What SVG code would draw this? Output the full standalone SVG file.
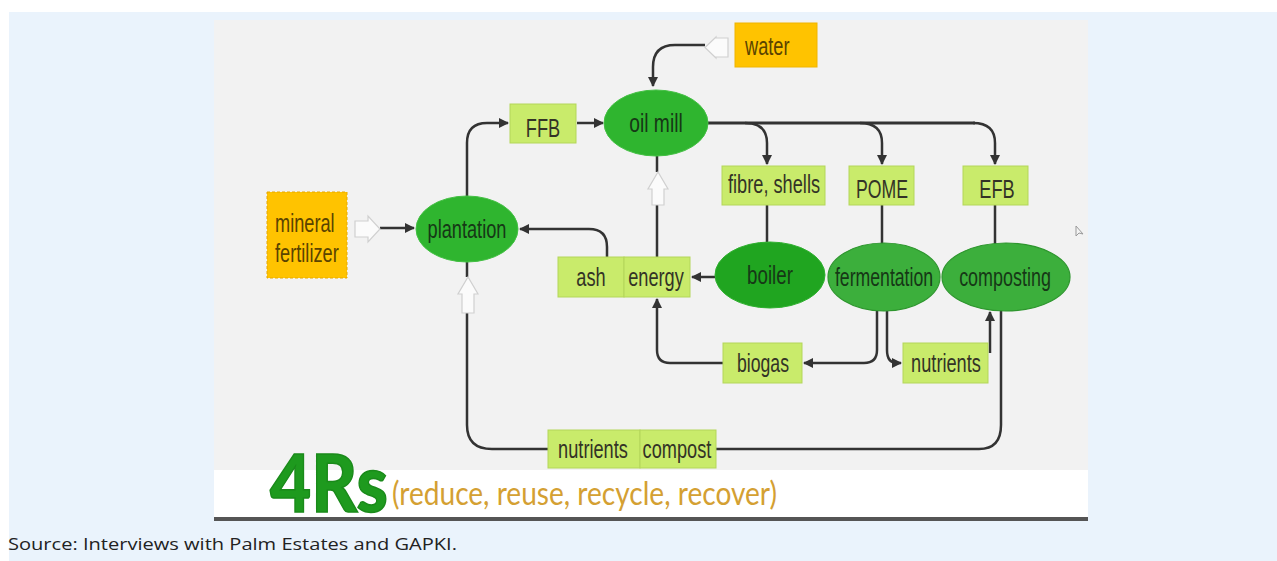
<svg xmlns="http://www.w3.org/2000/svg" width="1277" height="561" viewBox="0 0 1277 561">
<defs>
<style>
.lbl{font-family:"Liberation Sans",Arial,sans-serif;font-size:26px;fill:#333326;text-anchor:middle;}
.elbl{font-family:"Liberation Sans",Arial,sans-serif;font-size:26px;fill:#163816;text-anchor:middle;}
.olbl{font-family:"Liberation Sans",Arial,sans-serif;font-size:26px;fill:#5a4300;}
.box{fill:#C9EB6B;stroke:#B3D65A;stroke-width:1;}
.obox{fill:#FFC300;stroke:#F0B400;stroke-width:1;}
.ell1{fill:#2FB52F;stroke:#44C044;stroke-width:1;}
.ell2{fill:#20A520;stroke:#30B030;stroke-width:1;}
.ell3{fill:#3CAF3C;stroke:#2E962E;stroke-width:1.2;}
.con{fill:none;stroke:#333;stroke-width:2.5;}
.hollow{fill:#fbfbfb;stroke:#d0d0d0;stroke-width:1.2;}
</style>
<marker id="ah" viewBox="0 0 10 10" refX="9" refY="5" markerWidth="4" markerHeight="4" orient="auto" markerUnits="strokeWidth">
<path d="M0,0 L10,5 L0,10 z" fill="#333"/>
</marker>
</defs>
<rect x="0" y="0" width="1277" height="561" fill="#fff"/>
<rect x="9" y="12" width="1268" height="549" fill="#EAF3FC"/>
<rect x="214" y="20" width="874" height="450" fill="#F2F2F2"/>
<rect x="214" y="470" width="874" height="47" fill="#fff"/>
<rect x="214" y="517" width="874" height="4" fill="#555"/>

<g id="connectors">
<path class="con" d="M705,45 H675 Q653,45 653,67 V86" marker-end="url(#ah)"/>
<path class="con" d="M467,197 V143 Q467,123 487,123 H508" marker-end="url(#ah)"/>
<path class="con" d="M577,123 H603" marker-end="url(#ah)"/>
<path class="con" d="M708,123 H975" style="stroke-width:3.2"/>
<path class="con" d="M745,123 Q767,123 767,143 V164" marker-end="url(#ah)"/>
<path class="con" d="M860,123 Q882,123 882,143 V164" marker-end="url(#ah)"/>
<path class="con" d="M973,123 Q995,123 995,143 V164" marker-end="url(#ah)"/>
<path class="con" d="M767,205 V242"/>
<path class="con" d="M882,205 V244"/>
<path class="con" d="M995,205 V244"/>
<path class="con" d="M715,277 H692" marker-end="url(#ah)"/>
<path class="con" d="M657,257 V205"/>
<path class="con" d="M657,172 V156"/>
<path class="con" d="M607,257 V247 Q607,229 589,229 H520" marker-end="url(#ah)"/>
<path class="con" d="M380,228 H414" marker-end="url(#ah)"/>
<path class="con" d="M467,262 V277"/>
<path class="con" d="M467,313 V425 Q467,449 492,449 H548"/>
<path class="con" d="M716,449 H979 Q1001,449 1001,425 V310"/>
<path class="con" d="M877,311 V350 Q877,363 864,363 H804" marker-end="url(#ah)"/>
<path class="con" d="M723,363 H670 Q657,363 657,350 V299" marker-end="url(#ah)"/>
<path class="con" d="M887,311 V350 Q887,363 897,363 H901" marker-end="url(#ah)"/>
<path class="con" d="M990,353 V312" marker-end="url(#ah)"/>
<path class="hollow" d="M728,38 H716 V37 L705,47.5 L716,58 V57 H728 z"/>
<path class="hollow" d="M355,221 H368 V216 L380,229 L368,242 V237 H355 z"/>
<path class="hollow" d="M462,313 V294 H458 L468,277 L478,294 H474 V313 z"/>
<path class="hollow" d="M652,205 V189 H648 L658,172 L668,189 H664 V205 z"/>
</g>

<g id="water"><rect class="obox" x="735" y="23" width="82" height="44"/><text class="olbl" transform="translate(745,55) scale(0.7,1)">water</text></g>
<g id="mineral-fertilizer"><rect class="obox" x="267" y="192" width="80" height="86" style="stroke:#E6A800;stroke-dasharray:3 2"/><text class="olbl" transform="translate(275,232) scale(0.7,1)">mineral</text><text class="olbl" transform="translate(275,262) scale(0.7,1)">fertilizer</text></g>
<g id="oil-mill"><ellipse class="ell1" cx="656" cy="123" rx="52" ry="33"/><text class="elbl" transform="translate(656,132) scale(0.74,1)">oil mill</text></g>
<g id="plantation"><ellipse class="ell1" cx="467" cy="229" rx="51" ry="33"/><text class="elbl" transform="translate(467,238) scale(0.7,1)">plantation</text></g>
<g id="ffb"><rect class="box" x="510" y="104" width="66" height="39"/><text class="lbl" transform="translate(543,137) scale(0.7,1)">FFB</text></g>
<g id="fibre-shells"><rect class="box" x="722" y="166" width="103" height="39"/><text class="lbl" transform="translate(774,193) scale(0.7,1)">fibre, shells</text></g>
<g id="pome"><rect class="box" x="849" y="166" width="65" height="39"/><text class="lbl" transform="translate(882,198) scale(0.68,1)">POME</text></g>
<g id="efb"><rect class="box" x="963" y="166" width="65" height="39"/><text class="lbl" transform="translate(997,198) scale(0.7,1)">EFB</text></g>
<g id="boiler"><ellipse class="ell2" cx="770" cy="275" rx="55" ry="33"/><text class="elbl" transform="translate(770,284) scale(0.72,1)">boiler</text></g>
<g id="fermentation"><ellipse class="ell3" cx="884" cy="277" rx="56" ry="34"/><text class="elbl" transform="translate(884,286) scale(0.68,1)">fermentation</text></g>
<g id="composting"><ellipse class="ell3" cx="1006" cy="277" rx="64" ry="34"/><text class="elbl" transform="translate(1005,286) scale(0.69,1)">composting</text></g>
<g id="ash"><rect class="box" x="558" y="257" width="66" height="40"/><text class="lbl" transform="translate(591,286) scale(0.7,1)">ash</text></g>
<g id="energy"><rect class="box" x="624" y="257" width="66" height="40"/><text class="lbl" transform="translate(656,286) scale(0.7,1)">energy</text></g>
<g id="biogas"><rect class="box" x="723" y="343" width="79" height="40"/><text class="lbl" transform="translate(763,372) scale(0.68,1)">biogas</text></g>
<g id="nutrients-right"><rect class="box" x="903" y="343" width="85" height="40"/><text class="lbl" transform="translate(946,372) scale(0.7,1)">nutrients</text></g>
<g id="nutrients-bottom"><rect class="box" x="548" y="430" width="92" height="38"/><text class="lbl" transform="translate(593,458) scale(0.7,1)">nutrients</text></g>
<g id="compost"><rect class="box" x="640" y="430" width="76" height="38"/><text class="lbl" transform="translate(677,458) scale(0.7,1)">compost</text></g>

<path d="M1076,226 L1076,236 L1079,233 L1083,234 z" fill="#f4f4f4" stroke="#999" stroke-width="1"/>

<text x="270" y="512" font-family="Lato,'Open Sans',sans-serif" font-weight="900" font-size="80" fill="#1E9A1E" stroke="#1A8A1A" stroke-width="1.5" textLength="118" lengthAdjust="spacingAndGlyphs">4Rs</text>
<text x="392" y="505" font-family="Lato,'Open Sans',sans-serif" font-size="32" fill="#D4A032" textLength="385" lengthAdjust="spacingAndGlyphs">(reduce, reuse, recycle, recover)</text>
<text x="8" y="550" font-family="'Open Sans',Lato,sans-serif" font-size="16" fill="#222" textLength="449" lengthAdjust="spacingAndGlyphs">Source: Interviews with Palm Estates and GAPKI.</text>
</svg>
